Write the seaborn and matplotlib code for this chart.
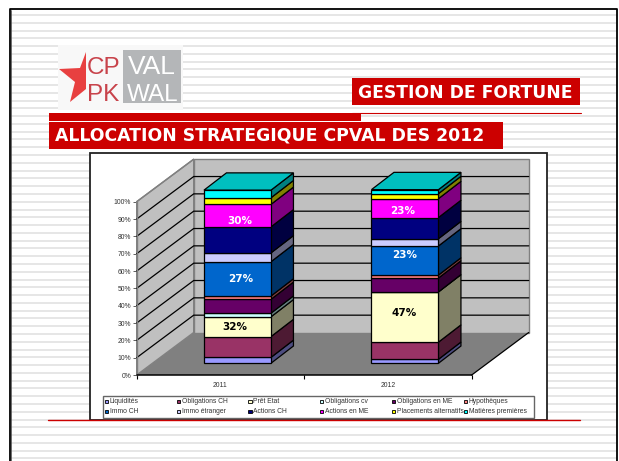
import numpy as np
import matplotlib
matplotlib.use("Agg")
import matplotlib.pyplot as plt
from matplotlib.patches import Polygon, Rectangle
import seaborn as sns

years = ["2011", "2012"]
categories = ["Liquidités", "Obligations CH", "Prêt Etat", "Obligations cv", "Obligations en ME", "Hypothèques",
              "Immo CH", "Immo étranger", "Actions CH", "Actions en ME", "Placements alternatifs", "Matières premières"]
values_2011 = [3.4, 12.0, 11.4, 2.1, 8.0, 1.9, 19.8, 5.1, 15.0, 13.0, 3.8, 4.4]
values_2012 = [2.3, 9.9, 29.0, 0.0, 8.0, 1.7, 16.8, 4.2, 12.2, 10.9, 2.9, 2.3]
colors = ["#9999FF", "#993366", "#FFFFCC", "#CCFFFF", "#660066", "#FF8080",
          "#0066CC", "#CCCCFF", "#000080", "#FF00FF", "#FFFF00", "#00FFFF"]
pct_ticks = list(range(0, 101, 10))
label_year = [0, 0, 0, 1, 1, 1]
label_text = ["30%", "27%", "32%", "23%", "23%", "47%"]
label_color = ["white", "white", "black", "white", "white", "black"]

W, H = 619, 461
sns.set_theme(style="white")
plt.rcParams["font.family"] = ["Liberation Sans", "DejaVu Sans"]
fig = plt.figure(figsize=(W / 100, H / 100), dpi=100, facecolor="white")

# --- slide background, in pixels ---
bg = fig.add_axes([0, 0, 1, 1])
bg.set_xlim(0, W)
bg.set_ylim(H, 0)
bg.axis("off")
for y in np.arange(15, H, 7.78):
    bg.add_patch(Rectangle((10, y - 1), 607, 2, fc="#E6E6E6", ec="none"))
bg.plot([9.5, 9.5, 616.5, 616.5], [H, 9.5, 9.5, H], color="black", lw=1.3)
bg.plot([10.5, 10.5], [10, H], color="#555555", lw=0.6)

# logo
bg.add_patch(Rectangle((58, 45), 125, 65, fc="#F8F8F8", ec="none"))
bg.add_patch(Rectangle((123, 50), 58, 53, fc="#B4B6B8", ec="none"))
bg.add_patch(Polygon([(59, 69), (80, 68), (86, 52), (86, 89), (70, 102), (75, 82)], fc="#E84040", ec="none"))
bg.text(87, 74, "CP", color="#C8434B", fontsize=17.5, va="baseline")
bg.text(87, 101, "PK", color="#C8434B", fontsize=17.5, va="baseline")
bg.text(128, 74, "VAL", color="white", fontsize=19, va="baseline")
bg.text(127, 101, "WAL", color="white", fontsize=17.5, va="baseline")

# banners
red = "#CC0000"
bg.add_patch(Rectangle((352, 78), 228, 27, fc=red, ec="none"))
bg.add_patch(Rectangle((49, 113), 312, 8, fc=red, ec="none"))
bg.add_patch(Rectangle((49, 122), 454, 27, fc=red, ec="none"))
bg.plot([352, 581], [113.5, 113.5], color=red, lw=0.8)
bg.text(465.5, 92.5, "GESTION DE FORTUNE", color="white", fontsize=12.3, family="DejaVu Sans",
        weight="bold", ha="center", va="center")
bg.text(55, 135.5, "ALLOCATION STRATEGIQUE CPVAL DES 2012", color="white", fontsize=12.4, family="DejaVu Sans",
        weight="bold", ha="left", va="center")

# chart frame and bottom rule
bg.plot([48, 580], [420, 420], color=red, lw=1)
bg.add_patch(Rectangle((90, 152.5), 457, 267, fc="white", ec="#222222", lw=1.3))

# legend box
bg.add_patch(Rectangle((102.5, 395.5), 431.5, 22, fc="white", ec="#666666", lw=1))
for i, (name, col) in enumerate(zip(categories, colors)):
    lx = 104.7 + 71.8 * (i % 6)
    ly = 401.5 + 10 * (i // 6)
    bg.add_patch(Rectangle((lx, ly - 1.7), 3.4, 3.4, fc=col, ec="black", lw=0.6))
    bg.text(lx + 5, ly, name, fontsize=4.9, color="#333333", va="center", ha="left")

# --- chart ---
plot_left, plot_w = 136.7, 335.0
plot_bottom, plot_h = 375.0, 173.3
ax = fig.add_axes([plot_left / W, 1 - plot_bottom / H, plot_w / W, plot_h / H])
ax.patch.set_alpha(0)
px, py = 2.0 / plot_w, 100.0 / plot_h  # data units for one pixel

df_x = np.array(years)
bottoms = np.zeros(2)
bar_sets = []
for i, col in enumerate(colors):
    vals = np.array([values_2011[i], values_2012[i]])
    n_before = len(ax.patches)
    sns.barplot(x=df_x, y=vals, bottom=bottoms, color=col, saturation=1, width=0.4,
                edgecolor="black", linewidth=0.9, ax=ax, zorder=5)
    bar_sets.append(ax.patches[n_before:])
    bottoms = bottoms + vals

ax.set_xlim(-0.5, 1.5)
ax.set_ylim(0, 100)

wall_dx, wall_dy = 57 * px, 42.5 * py
x0, x1 = -0.5, 1.5
# floor, walls
ax.add_patch(Polygon([(x0, 0), (x1, 0), (x1 + wall_dx, wall_dy), (x0 + wall_dx, wall_dy)], fc="#808080", ec="none",
                     clip_on=False, zorder=1))
ax.add_patch(Polygon([(x0, 0), (x0 + wall_dx, wall_dy), (x0 + wall_dx, 100 + wall_dy), (x0, 100)], fc="#C0C0C0",
                     ec="#808080", lw=1, clip_on=False, zorder=1))
ax.add_patch(Rectangle((x0 + wall_dx, wall_dy), x1 - x0, 100, fc="#C0C0C0", ec="#808080", lw=1,
                       clip_on=False, zorder=1))
for t in pct_ticks[1:-1]:
    ax.plot([x0, x0 + wall_dx, x1 + wall_dx], [t, t + wall_dy, t + wall_dy], color="black", lw=0.9,
            clip_on=False, zorder=2)
ax.plot([x0, x0 + wall_dx], [100, 100 + wall_dy], color="#808080", lw=1, clip_on=False, zorder=2)
ax.plot([x1, x1 + wall_dx], [0, wall_dy], color="black", lw=0.9, clip_on=False, zorder=2)
ax.plot([x0, x1], [0, 0], color="black", lw=1.1, clip_on=False, zorder=3)

# the 3d look of the bars: front faces slid into the floor, side and top faces added
shift_x, shift_y = 17 * px, 11.7 * py
depth_x, depth_y = 22.5 * px, 17.3 * py


def dark(hex_col, k):
    r, g, b = matplotlib.colors.to_rgb(hex_col)
    return (r * k, g * k, b * k)


for col, patches in zip(colors, bar_sets):
    for p in patches:
        p.set_x(p.get_x() + shift_x)
        p.set_y(p.get_y() + shift_y)
        p.set_clip_on(False)
        xr = p.get_x() + p.get_width()
        yb, yt = p.get_y(), p.get_y() + p.get_height()
        ax.add_patch(Polygon([(xr, yb), (xr + depth_x, yb + depth_y), (xr + depth_x, yt + depth_y), (xr, yt)],
                             fc=dark(col, 0.5), ec="black", lw=0.9, clip_on=False, zorder=4))
for p in bar_sets[-1]:
    xl, xr = p.get_x(), p.get_x() + p.get_width()
    yt = p.get_y() + p.get_height()
    ax.add_patch(Polygon([(xl, yt), (xr, yt), (xr + depth_x, yt + depth_y), (xl + depth_x, yt + depth_y)],
                         fc=dark(colors[-1], 0.75), ec="black", lw=0.9, clip_on=False, zorder=4))

# hand placed labels, as on the slide
label_dx = [2.8, 2.8, -2.2, -2.7, -0.7, -1.2]
label_y = [82.1, 48.6, 21.1, 88.0, 62.5, 29.0]
for yr, txt, col, ldx, ly in zip(label_year, label_text, label_color, label_dx, label_y):
    ax.text(yr + shift_x + ldx * px, ly + shift_y, txt, color=col, fontsize=7.5, family="DejaVu Sans", weight="bold",
            ha="center", va="center", zorder=6, clip_on=False)

sns.despine(ax=ax, top=True, right=True, bottom=True)
ax.spines["left"].set_color("#808080")
ax.spines["left"].set_linewidth(1)
ax.set_yticks(pct_ticks)
ax.set_yticklabels([f"{t}%" for t in pct_ticks], fontsize=4.9, color="#333333")
ax.set_xticks([0, 1])
ax.set_xticklabels(years, fontsize=4.9, color="#333333")
ax.set_xticks([-0.5, 0.5, 1.5], minor=True)
ax.tick_params(axis="x", which="major", length=0, pad=5)
ax.tick_params(axis="x", which="minor", length=3, width=0.8, color="black", bottom=True)
ax.tick_params(axis="y", length=3, width=0.6, color="#444444", pad=1, left=True)
ax.set_xlabel("")
ax.set_ylabel("")

fig.savefig("out.png", dpi=100)
